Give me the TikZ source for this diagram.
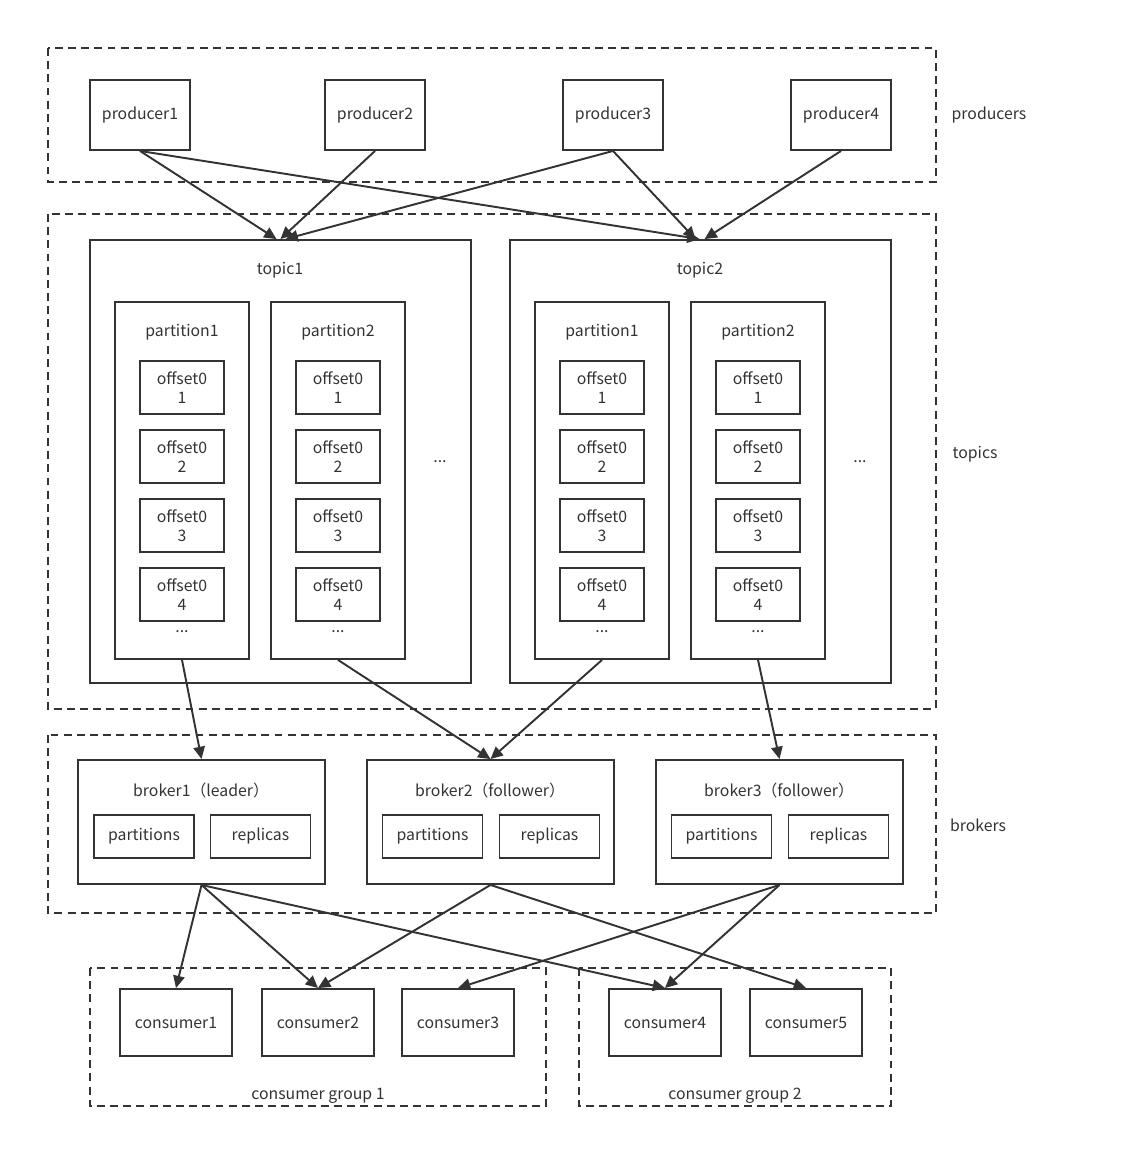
\documentclass[tikz,border=0pt]{standalone}
\usepackage{fontspec}
\setmainfont{Noto Sans CJK SC}
\usetikzlibrary{arrows.meta, positioning}
\definecolor{edgegray}{HTML}{333333}

\begin{document}
\begin{tikzpicture}[x=0.02cm, y=-0.02cm, font=\fontsize{9}{10.8}\selectfont,
    line width=1.1pt, text=edgegray,
    box/.style={draw=edgegray, rectangle, inner sep=0pt, align=center},
    group/.style={draw=edgegray, dash pattern=on 4.5pt off 3pt},
    flow/.style={draw=edgegray, -{Triangle[length=7pt, width=6.5pt]}},
    prodbox/.style={box, minimum width=2cm, minimum height=1.4cm},
    topicbox/.style={box, minimum width=7.62cm, minimum height=8.86cm},
    partbox/.style={box, minimum width=2.68cm, minimum height=7.14cm},
    offsetbox/.style={box, minimum width=1.68cm, minimum height=1.06cm},
    brokerbox/.style={box, minimum width=4.94cm, minimum height=2.48cm},
    smallbox/.style={box, minimum width=2cm, minimum height=0.86cm},
    consbox/.style={box, minimum width=2.24cm, minimum height=1.34cm}]
        \useasboundingbox (0,0) rectangle (1132,1168);
        % Define the groups
        \draw[group] (48,48) rectangle (936,182);
        \draw[group] (48,214) rectangle (936,709);
        \draw[group] (48,735) rectangle (936,913);
        \draw[group] (90,968) rectangle (546,1106);
        \draw[group] (579,968) rectangle (891,1106);
        \node (producers) at (989,115) {producers};
        \node (topics) at (975,454) {topics};
        \node (brokers) at (978,825) {brokers};
        \node (cg1) at (318,1096) {consumer group 1};
        \node (cg2) at (735,1096) {consumer group 2};
        % Define the producers
        \node[prodbox] (producer1) at (140,115) {producer1};
        \node[prodbox] (producer2) at (375,115) {producer2};
        \node[prodbox] (producer3) at (613,115) {producer3};
        \node[prodbox] (producer4) at (841,115) {producer4};
        % Define the topics
        \node[topicbox] (topic1) at (280.5,461.5) {};
        \node[topicbox] (topic2) at (700.5,461.5) {};
        \node (topic1label) at (280,270) {topic1};
        \node (topic2label) at (700,270) {topic2};
        \node (topic1more) at (440,462) {...};
        \node (topic2more) at (860,462) {...};
        \foreach \p/\x/\n in {t1p1/182/1, t1p2/338/2, t2p1/602/1, t2p2/758/2} {
            \node[partbox] (\p) at (\x,480.5) {};
            \node (\p label) at (\x,332) {partition\n};
            \foreach \k/\y in {1/387.5, 2/456.5, 3/525.5, 4/594.5}
                \node[offsetbox] (\p o\k) at (\x,\y) {offset0\\\k};
            \node (\p more) at (\x,632) {...};
        }
        % Define the brokers
        \node[brokerbox] (broker1) at (201.5,822) {};
        \node[brokerbox] (broker2) at (490.5,822) {};
        \node[brokerbox] (broker3) at (779.5,822) {};
        \node (broker1label) at (201,790) {broker1（leader）};
        \node (broker2label) at (490,790) {broker2（follower）};
        \node (broker3label) at (779,790) {broker3（follower）};
        \foreach \b/\x/\y in {1/144/260.5, 2/432.5/549.5, 3/721.5/838.5} {
            \node[smallbox] (partitions\b) at (\x,836.5) {partitions};
            \node[smallbox] (replicas\b) at (\y,836.5) {replicas};
        }
        % Define the consumers
        \node[consbox] (consumer1) at (176,1022.5) {consumer1};
        \node[consbox] (consumer2) at (318,1022.5) {consumer2};
        \node[consbox] (consumer3) at (458,1022.5) {consumer3};
        \node[consbox] (consumer4) at (665,1022.5) {consumer4};
        \node[consbox] (consumer5) at (806,1022.5) {consumer5};
        % Define the connections
        \draw[flow] (producer1.south) -- ([xshift=-0.08cm]topic1.north);
        \draw[flow] (producer2.south) -- (topic1.north);
        \draw[flow] (producer3.south) -- ([xshift=0.1cm]topic1.north);
        \draw[flow] (producer1.south) -- ([xshift=-0.02cm]topic2.north);
        \draw[flow] (producer3.south) -- ([xshift=-0.1cm]topic2.north);
        \draw[flow] (producer4.south) -- ([xshift=0.08cm]topic2.north);
        \draw[flow] (t1p1.south) -- (broker1.north);
        \draw[flow] (t1p2.south) -- (broker2.north);
        \draw[flow] (t2p1.south) -- (broker2.north);
        \draw[flow] (t2p2.south) -- (broker3.north);
        \draw[flow] (broker1.south) -- (consumer1.north);
        \draw[flow] (broker1.south) -- (consumer2.north);
        \draw[flow] (broker1.south) -- (consumer4.north);
        \draw[flow] (broker2.south) -- (consumer2.north);
        \draw[flow] (broker2.south) -- (consumer5.north);
        \draw[flow] (broker3.south) -- (consumer3.north);
        \draw[flow] (broker3.south) -- (consumer4.north);
\end{tikzpicture}
\end{document}
